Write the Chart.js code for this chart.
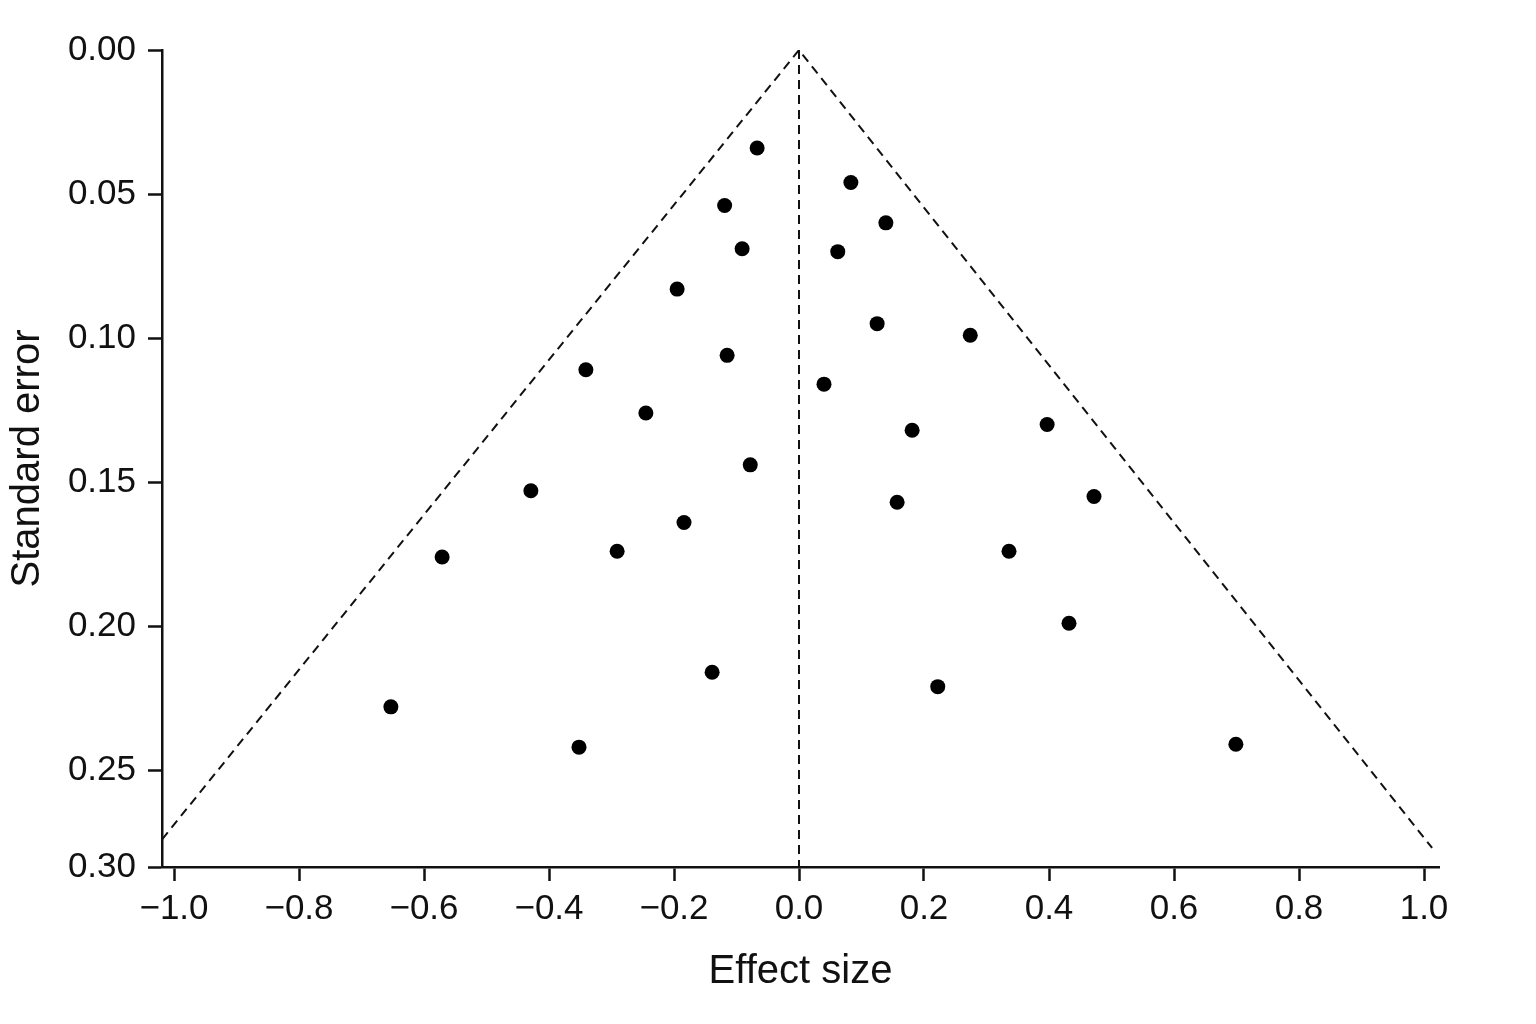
<!DOCTYPE html>
<html>
<head>
<meta charset="utf-8">
<script src="https://cdn.jsdelivr.net/npm/chart.js@4.4.1/dist/chart.umd.min.js"></script>
<style>
  html, body { margin: 0; padding: 0; background: #fff; }
  canvas { display: block; }
</style>
</head>
<body>
<canvas id="funnelChart" width="1536" height="1024"></canvas>
<script>
// study estimates
const effectSizes = [
    -0.067, 0.083, -0.119, 0.139, -0.091, 0.062, -0.195, 0.125, 0.274, -0.115,
    -0.341, 0.040, -0.245, 0.397, 0.181, -0.078, -0.429, 0.472, 0.157, -0.184,
    -0.291, 0.336, -0.571, 0.432, -0.139, 0.222, -0.653, -0.352, 0.699
];
const standardErrors = [
    0.034, 0.046, 0.054, 0.060, 0.069, 0.070, 0.083, 0.095, 0.099, 0.106,
    0.111, 0.116, 0.126, 0.130, 0.132, 0.144, 0.153, 0.155, 0.157, 0.164,
    0.174, 0.174, 0.176, 0.199, 0.216, 0.221, 0.228, 0.242, 0.241
];

// funnel outline (left end, apex, right end) and centre line
const funnelEffect = [-1.019, 0, 1.013];
const funnelSE = [0.274, 0, 0.277];
const centreEffect = [0, 0];
const centreSE = [0, 0.2836];

const xTickValues = [-1.0, -0.8, -0.6, -0.4, -0.2, 0.0, 0.2, 0.4, 0.6, 0.8, 1.0];
const xTickLabels = ['\u22121.0', '\u22120.8', '\u22120.6', '\u22120.4', '\u22120.2', '0.0', '0.2', '0.4', '0.6', '0.8', '1.0'];
const seTickValues = [0, 0.05, 0.10, 0.15, 0.20, 0.25, 0.2836];
const seTickLabels = ['0.00', '0.05', '0.10', '0.15', '0.20', '0.25', '0.30'];

const ink = '#111111';
const fontFamily = '"Liberation Sans", Arial, sans-serif';

const pairUp = (xs, ys) => xs.map((x, i) => ({ x: x, y: ys[i] }));

const ctx = document.getElementById('funnelChart').getContext('2d');

const data = {
    datasets: [
        {
            type: 'scatter',
            label: 'Studies',
            data: pairUp(effectSizes, standardErrors),
            backgroundColor: '#000',
            borderWidth: 0,
            pointRadius: 7.5,
            order: 0
        },
        {
            type: 'line',
            label: 'Funnel',
            data: pairUp(funnelEffect, funnelSE),
            borderColor: ink,
            borderWidth: 2,
            borderDash: [9, 6],
            pointRadius: 0,
            fill: false,
            order: 1
        },
        {
            type: 'line',
            label: 'Centre',
            data: pairUp(centreEffect, centreSE),
            borderColor: ink,
            borderWidth: 2,
            borderDash: [9, 6],
            pointRadius: 0,
            fill: false,
            order: 1
        }
    ]
};

const config = {
    type: 'scatter',
    data: data,
    options: {
        responsive: false,
        devicePixelRatio: 1,
        animation: false,
        layout: { padding: { top: 50, right: 97, left: 0, bottom: 0 } },
        plugins: {
            legend: { display: false },
            tooltip: { enabled: false }
        },
        scales: {
            x: {
                type: 'linear',
                min: -1.0192,
                max: 1.024,
                afterBuildTicks: (scale) => { scale.ticks = xTickValues.map(v => ({ value: v })); },
                afterFit: (scale) => { scale.height = 157; },
                ticks: {
                    color: ink,
                    font: { family: fontFamily, size: 35 },
                    padding: 7,
                    maxRotation: 0,
                    autoSkip: false,
                    callback: (value, index) => xTickLabels[index]
                },
                grid: {
                    display: true,
                    drawOnChartArea: false,
                    drawTicks: true,
                    tickLength: 14,
                    tickWidth: 2.5,
                    tickColor: ink
                },
                border: { display: true, color: ink, width: 2.5 },
                title: {
                    display: true,
                    text: 'Effect size',
                    color: ink,
                    font: { family: fontFamily, size: 40 },
                    padding: { top: 0, bottom: 28 }
                }
            },
            y: {
                type: 'linear',
                reverse: true,
                min: 0,
                max: 0.2836,
                afterBuildTicks: (scale) => { scale.ticks = seTickValues.map(v => ({ value: v })); },
                afterFit: (scale) => { scale.width = 162; },
                ticks: {
                    color: ink,
                    font: { family: fontFamily, size: 35 },
                    padding: 12,
                    autoSkip: false,
                    callback: (value, index) => seTickLabels[index]
                },
                grid: {
                    display: true,
                    drawOnChartArea: false,
                    drawTicks: true,
                    tickLength: 14,
                    tickWidth: 2.5,
                    tickColor: ink
                },
                border: { display: true, color: ink, width: 2.5 },
                title: {
                    display: true,
                    text: 'Standard error',
                    color: ink,
                    font: { family: fontFamily, size: 40 },
                    padding: { top: 4, bottom: 0 }
                }
            }
        }
    }
};

window.funnelChart = new Chart(ctx, config);
</script>
</body>
</html>
